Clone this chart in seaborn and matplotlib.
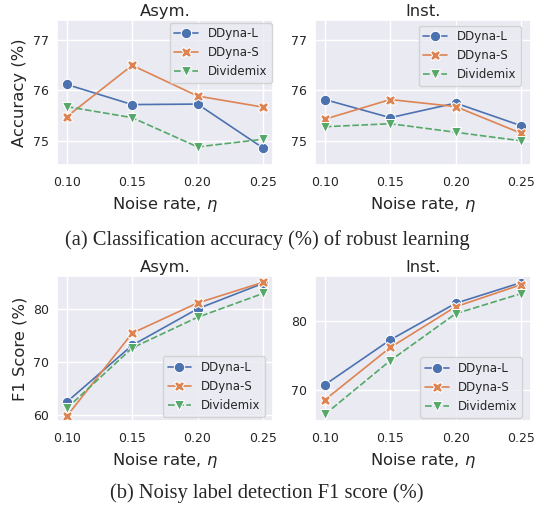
import matplotlib

matplotlib.use('Agg')
import matplotlib.pyplot as plt
import matplotlib.ticker as mticker
import numpy as np
import pandas as pd
import seaborn as sns

# ==========================================
# 数据
# ==========================================
noise_rates = [0.10, 0.15, 0.20, 0.25]
methods = ['DDyna-L', 'DDyna-S', 'Dividemix']

acc_asym_l = [76.12, 75.72, 75.73, 74.86]
acc_asym_s = [75.48, 76.50, 75.89, 75.67]
acc_asym_d = [75.68, 75.46, 74.88, 75.03]

acc_inst_l = [75.82, 75.46, 75.75, 75.30]
acc_inst_s = [75.43, 75.82, 75.68, 75.15]
acc_inst_d = [75.28, 75.34, 75.17, 75.00]

f1_asym_l = [62.5, 73.2, 80.1, 84.9]
f1_asym_s = [59.8, 75.5, 81.2, 85.1]
f1_asym_d = [61.3, 72.7, 78.5, 83.0]

f1_inst_l = [70.7, 77.2, 82.5, 85.5]
f1_inst_s = [68.5, 76.1, 82.0, 85.2]
f1_inst_d = [66.4, 74.2, 81.0, 83.9]


def to_long(l_vals, s_vals, d_vals):
    rows = []
    for name, vals in zip(methods, [l_vals, s_vals, d_vals]):
        for x, y in zip(noise_rates, vals):
            rows.append({'noise': x, 'value': y, 'method': name})
    return pd.DataFrame(rows)


sns.set_theme(style='darkgrid')
plt.rcParams['font.family'] = ['DejaVu Sans']
plt.rcParams['xtick.labelsize'] = 9
plt.rcParams['ytick.labelsize'] = 9
plt.rcParams['axes.labelsize'] = 11.8
plt.rcParams['axes.titlesize'] = 11.8

fig = plt.figure(figsize=(5.37, 5.05), dpi=100)

# 子图位置 (像素 -> 比例)
W, H = 537, 505
def add_ax(x0, y0, x1, y1):
    return fig.add_axes([x0 / W, 1 - y1 / H, (x1 - x0) / W, (y1 - y0) / H])

ax_tl = add_ax(57, 20, 272.7, 165)
ax_tr = add_ax(315, 20, 531, 165)
ax_bl = add_ax(57, 276, 272.7, 421)
ax_br = add_ax(315, 276, 531, 421)

panels = [
    (ax_tl, to_long(acc_asym_l, acc_asym_s, acc_asym_d), 'Asym.', 'Accuracy (%)',
     (74.52, 77.40), 1, dict(loc='upper right', bbox_to_anchor=(0.995, 0.981))),
    (ax_tr, to_long(acc_inst_l, acc_inst_s, acc_inst_d), 'Inst.', '',
     (74.52, 77.40), 1, dict(loc='upper right', bbox_to_anchor=(0.952, 0.961))),
    (ax_bl, to_long(f1_asym_l, f1_asym_s, f1_asym_d), 'Asym.', 'F1 Score (%)',
     (58.9, 86.3), 10, dict(loc='lower right', bbox_to_anchor=(0.964, 0.030))),
    (ax_br, to_long(f1_inst_l, f1_inst_s, f1_inst_d), 'Inst.', '',
     (65.45, 86.45), 10, dict(loc='lower right', bbox_to_anchor=(0.960, 0.023))),
]

for ax, df, title, ylabel, ylim, step, leg_kw in panels:
    sns.lineplot(data=df, x='noise', y='value', hue='method', style='method',
                 markers=['o', 'X', 'v'], dashes=['', '', (4, 1.5)],
                 markersize=7.5, linewidth=1.2, ax=ax)
    ax.set_title(title, pad=3)
    ax.set_xlabel(r'Noise rate, $\eta$', labelpad=4)
    ax.set_ylabel(ylabel, labelpad=4)
    ax.set_ylim(*ylim)
    ax.set_xticks(noise_rates)
    ax.xaxis.set_major_formatter(mticker.FormatStrFormatter('%.2f'))
    ax.yaxis.set_major_locator(mticker.MultipleLocator(step))
    ax.tick_params(axis='x', length=0, pad=8.0)
    ax.tick_params(axis='y', length=0, pad=5.8)
    ax.legend(title=None, fontsize=8.5, borderaxespad=0, **leg_kw)

# 图注 (LaTeX 风格的衬线字体)
fig.text(0.497, 1 - 240 / H, '(a) Classification accuracy (%) of robust learning',
         ha='center', va='center', family='Liberation Serif', fontsize=14.8)
fig.text(0.497, 1 - 493 / H, '(b) Noisy label detection F1 score (%)',
         ha='center', va='center', family='Liberation Serif', fontsize=14.8)

fig.savefig('out.png', dpi=100)
plt.close(fig)
